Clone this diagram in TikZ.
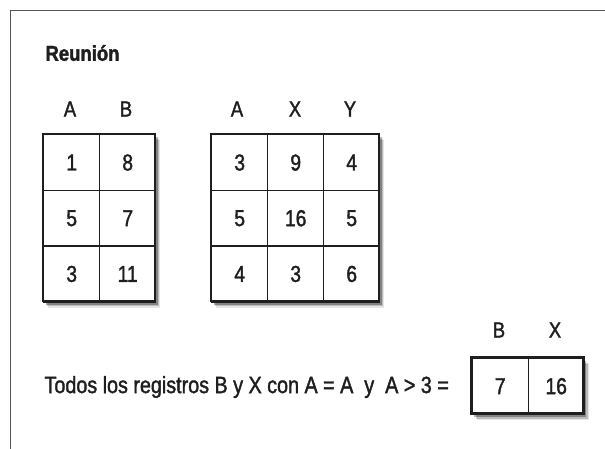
\documentclass[tikz,border=0pt]{standalone}
\usepackage{fontspec}
\setmainfont[FakeStretch=0.84]{Liberation Sans}
\newfontfamily\bodyfont[FakeStretch=0.84, FakeBold=1.5]{Liberation Sans}
\newfontfamily\titlefont[FakeStretch=0.86, BoldFeatures={FakeStretch=0.86, FakeBold=1.6}]{Liberation Sans}
\usetikzlibrary{shadows}
\definecolor{ink}{HTML}{1E1E1E}
\definecolor{rule}{HTML}{555555}
\begin{document}
\begin{tikzpicture}[x=1pt,y=-1pt,
  cell/.style={draw=ink, line width=1.4pt, minimum width=56pt, minimum height=55.7pt, inner sep=0pt, anchor=north west, font=\bodyfont\fontsize{23}{26}\selectfont, text=ink},
  hdr/.style={font=\bodyfont\fontsize{22}{25}\selectfont, text=ink},
  tblshadow/.style={fill=white,
    drop shadow={shadow xshift=5pt, shadow yshift=-6.5pt, fill=black, opacity=0.10},
    drop shadow={shadow xshift=4pt, shadow yshift=-5pt, fill=black, opacity=0.18},
    drop shadow={shadow xshift=2.5pt, shadow yshift=-3.5pt, fill=black, opacity=0.3}},
  tblframe/.style={draw=ink, line width=2.2pt},
  txt/.style={anchor=west, text=ink, font=\bodyfont\fontsize{23.5}{27}\selectfont},
]
\useasboundingbox (0,0) rectangle (605,449);
\fill[white] (0,0) rectangle (605,449);
% frame lines
\coordinate (fc) at (10.5,10.5);
\coordinate (fr) at (605,10.5);
\coordinate (fb) at (10.5,449);
\draw[rule, line width=1.2pt] (fr) -- (fc) -- (fb);

\node[anchor=west, text=ink, font=\titlefont\bfseries\fontsize{21.5}{24}\selectfont] (title) at (42,53) {Reunión};

% table 1
\path[tblshadow] (43,134) rectangle (155,301);
\node[hdr] (h1a) at (70,109) {A};
\node[hdr] (h1b) at (126,109) {B};
\node[cell] (t1r1a) at (43,134) {1};
\node[cell] (t1r1b) at (99,134) {8};
\node[cell] (t1r2a) at (43,189.7) {5};
\node[cell] (t1r2b) at (99,189.7) {7};
\node[cell] (t1r3a) at (43,245.4) {3};
\node[cell] (t1r3b) at (99,245.4) {11};
\draw[tblframe] (43,134) rectangle (155,301);

% table 2
\path[tblshadow] (211,134) rectangle (379,301);
\node[hdr] (h2a) at (237,109) {A};
\node[hdr] (h2x) at (295,109) {X};
\node[hdr] (h2y) at (350,109) {Y};
\node[cell] (t2r1a) at (211,134) {3};
\node[cell] (t2r1x) at (267,134) {9};
\node[cell] (t2r1y) at (323,134) {4};
\node[cell] (t2r2a) at (211,189.7) {5};
\node[cell] (t2r2x) at (267,189.7) {16};
\node[cell] (t2r2y) at (323,189.7) {5};
\node[cell] (t2r3a) at (211,245.4) {4};
\node[cell] (t2r3x) at (267,245.4) {3};
\node[cell] (t2r3y) at (323,245.4) {6};
\draw[tblframe] (211,134) rectangle (379,301);

% result
\node[txt] (expr) at (41,387) {Todos los registros B y X con A = A\ \ y\ \ A > 3 =};
\path[tblshadow] (471.5,357.5) rectangle (583.5,413.5);
\node[hdr] (h3b) at (499,330) {B};
\node[hdr] (h3x) at (555,330) {X};
\node[cell, minimum height=56pt] (t3b) at (471.5,357.5) {7};
\node[cell, minimum height=56pt] (t3x) at (527.5,357.5) {16};
\draw[tblframe] (471.5,357.5) rectangle (583.5,413.5);
\end{tikzpicture}
\end{document}
